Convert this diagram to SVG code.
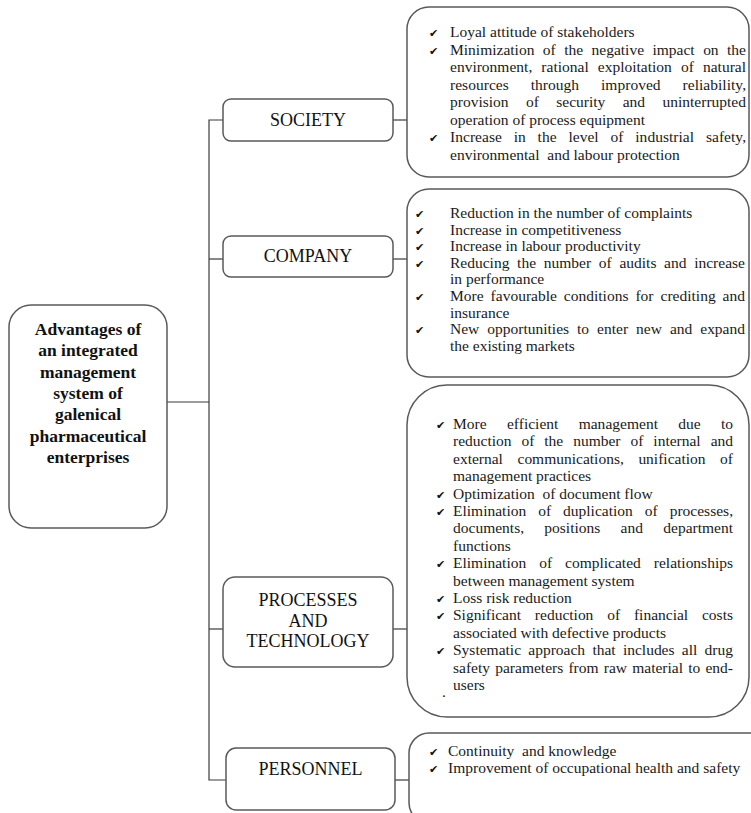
<svg xmlns="http://www.w3.org/2000/svg" width="751" height="813" viewBox="0 0 751 813">
  <style>
    .bg { fill: #ffffff; }
    .box { fill: #ffffff; stroke: #5a5a5a; stroke-width: 1.5; }
    .wire { fill: none; stroke: #3a3a3a; stroke-width: 1.2; }
    .root { font-family: "Liberation Serif", "Times New Roman", serif; font-size: 17.5px; font-weight: bold; fill: #111; text-anchor: middle; }
    .cat { font-family: "Liberation Serif", "Times New Roman", serif; font-size: 18px; fill: #111; text-anchor: middle; }
    .item { font-family: "Liberation Serif", "Times New Roman", serif; font-size: 15.5px; fill: #1a1a1a; }
    .tick { font-family: "DejaVu Sans", sans-serif; font-size: 11px; fill: #111; }
  </style>
  <rect class="bg" x="0" y="0" width="751" height="813"/>

  <!-- connectors: trunk, branches and leaf links -->
  <g id="connectors">
    <path class="wire" d="M167 402 H209"/>
    <path class="wire" d="M223 120 H209 V780 H226"/>
    <path class="wire" d="M209 259 H223"/>
    <path class="wire" d="M209 629 H223"/>
    <path class="wire" d="M393 120 H407"/>
    <path class="wire" d="M393 259 H407"/>
    <path class="wire" d="M393 629 H407"/>
    <path class="wire" d="M395 780 H409"/>
  </g>

  <!-- root node -->
  <g id="root">
    <rect class="box" x="9" y="305" width="158" height="223" rx="22"/>
    <text class="root" x="88" y="335">Advantages of</text>
    <text class="root" x="88" y="356.3">an integrated</text>
    <text class="root" x="88" y="377.6">management</text>
    <text class="root" x="88" y="398.9">system of</text>
    <text class="root" x="88" y="420.2">galenical</text>
    <text class="root" x="88" y="441.5">pharmaceutical</text>
    <text class="root" x="88" y="462.8">enterprises</text>
  </g>

  <!-- category nodes -->
  <g id="society">
    <rect class="box" x="223" y="99" width="170" height="42" rx="8"/>
    <text class="cat" x="308" y="126">SOCIETY</text>
  </g>
  <g id="company">
    <rect class="box" x="223" y="236" width="170" height="41" rx="8"/>
    <text class="cat" x="308" y="262">COMPANY</text>
  </g>
  <g id="processes">
    <rect class="box" x="223" y="577" width="170" height="90" rx="12"/>
    <text class="cat" x="308" y="606">PROCESSES</text>
    <text class="cat" x="308" y="626.5">AND</text>
    <text class="cat" x="308" y="647">TECHNOLOGY</text>
  </g>
  <g id="personnel">
    <rect class="box" x="226" y="748" width="169" height="62" rx="10"/>
    <text class="cat" x="310.5" y="775">PERSONNEL</text>
  </g>

  <!-- benefit lists -->
  <g id="society-benefits">
    <rect class="box" x="407" y="7" width="342" height="170" rx="22"/>
    <text class="tick" x="429" y="37">✔</text>
    <text class="tick" x="429" y="54.5">✔</text>
    <text class="tick" x="429" y="142">✔</text>
    <text class="item" x="450" y="37">Loyal attitude of stakeholders</text>
    <text class="item" x="450" y="54.5" word-spacing="4.57" textLength="296" lengthAdjust="spacing">Minimization of the negative impact on the</text>
    <text class="item" x="450" y="72" word-spacing="5.2" textLength="296" lengthAdjust="spacing">environment, rational exploitation of natural</text>
    <text class="item" x="450" y="89.5" word-spacing="18" textLength="296" lengthAdjust="spacing">resources through improved reliability,</text>
    <text class="item" x="450" y="107" word-spacing="13.5" textLength="296" lengthAdjust="spacing">provision of security and uninterrupted</text>
    <text class="item" x="450" y="124.5">operation of process equipment</text>
    <text class="item" x="450" y="142" word-spacing="7.9" textLength="296" lengthAdjust="spacing">Increase in the level of industrial safety,</text>
    <text class="item" x="450" y="159.5" xml:space="preserve">environmental  and labour protection</text>
  </g>

  <g id="company-benefits">
    <rect class="box" x="407" y="189" width="342" height="188" rx="22"/>
    <text class="tick" x="415" y="218">✔</text>
    <text class="tick" x="415" y="234.6">✔</text>
    <text class="tick" x="415" y="251.2">✔</text>
    <text class="tick" x="415" y="267.8">✔</text>
    <text class="tick" x="415" y="301">✔</text>
    <text class="tick" x="415" y="334.2">✔</text>
    <text class="item" x="450" y="218">Reduction in the number of complaints</text>
    <text class="item" x="450" y="234.6">Increase in competitiveness</text>
    <text class="item" x="450" y="251.2">Increase in labour productivity</text>
    <text class="item" x="450" y="267.8" word-spacing="3.8" textLength="295" lengthAdjust="spacing">Reducing the number of audits and increase</text>
    <text class="item" x="450" y="284.4">in performance</text>
    <text class="item" x="450" y="301" word-spacing="3.1" textLength="295" lengthAdjust="spacing">More favourable conditions for crediting and</text>
    <text class="item" x="450" y="317.6">insurance</text>
    <text class="item" x="450" y="334.2" word-spacing="4.1" textLength="295" lengthAdjust="spacing">New opportunities to enter new and expand</text>
    <text class="item" x="450" y="350.8">the existing markets</text>
  </g>

  <g id="processes-benefits">
    <rect class="box" x="407" y="385" width="342" height="332" rx="40"/>
    <text class="tick" x="436" y="429">✔</text>
    <text class="tick" x="436" y="498.6">✔</text>
    <text class="tick" x="436" y="516">✔</text>
    <text class="tick" x="436" y="568.2">✔</text>
    <text class="tick" x="436" y="603">✔</text>
    <text class="tick" x="436" y="620.4">✔</text>
    <text class="tick" x="436" y="655.2">✔</text>
    <text class="item" x="453" y="429" word-spacing="16.4" textLength="280" lengthAdjust="spacing">More efficient management due to</text>
    <text class="item" x="453" y="446.4" word-spacing="6.1" textLength="280" lengthAdjust="spacing">reduction of the number of internal and</text>
    <text class="item" x="453" y="463.8" word-spacing="10.7" textLength="280" lengthAdjust="spacing">external communications, unification of</text>
    <text class="item" x="453" y="481.2">management practices</text>
    <text class="item" x="453" y="498.6" xml:space="preserve">Optimization  of document flow</text>
    <text class="item" x="453" y="516" word-spacing="8.1" textLength="280" lengthAdjust="spacing">Elimination of duplication of processes,</text>
    <text class="item" x="453" y="533.4" word-spacing="16.4" textLength="280" lengthAdjust="spacing">documents, positions and department</text>
    <text class="item" x="453" y="550.8">functions</text>
    <text class="item" x="453" y="568.2" word-spacing="9.1" textLength="280" lengthAdjust="spacing">Elimination of complicated relationships</text>
    <text class="item" x="453" y="585.6">between management system</text>
    <text class="item" x="453" y="603">Loss risk reduction</text>
    <text class="item" x="453" y="620.4" word-spacing="9.95" textLength="280" lengthAdjust="spacing">Significant reduction of financial costs</text>
    <text class="item" x="453" y="637.8">associated with defective products</text>
    <text class="item" x="453" y="655.2" word-spacing="3.4" textLength="280" lengthAdjust="spacing">Systematic approach that includes all drug</text>
    <text class="item" x="453" y="672.6" word-spacing="1.3" textLength="280" lengthAdjust="spacing">safety parameters from raw material to end-</text>
    <text class="item" x="453" y="690">users</text>
    <text class="item" x="442" y="697" font-size="10">.</text>
  </g>

  <g id="personnel-benefits">
    <rect class="box" x="409" y="733" width="360" height="90" rx="20"/>
    <text class="tick" x="429" y="756">✔</text>
    <text class="tick" x="429" y="773">✔</text>
    <text class="item" x="448" y="756" xml:space="preserve">Continuity  and knowledge</text>
    <text class="item" x="448" y="773">Improvement of occupational health and safety</text>
  </g>
</svg>
